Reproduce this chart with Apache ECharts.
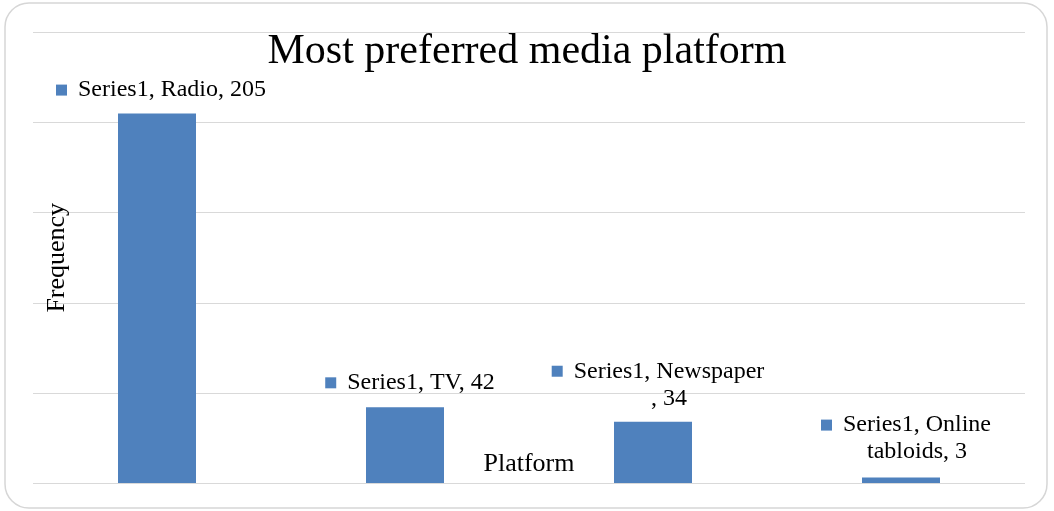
<!DOCTYPE html>
<html>
<head>
<meta charset="utf-8">
<title>Most preferred media platform</title>
<script src="https://cdn.jsdelivr.net/npm/echarts@6/dist/echarts.min.js"></script>
<style>
  html, body { margin: 0; padding: 0; background: #fff; }
  #chart { width: 1054px; height: 511px; }
</style>
</head>
<body>
<div id="chart"></div>
<script>
// Survey answers: which media platform respondents prefer
const seriesName = 'Series1';
const platforms = ['Radio', 'TV', 'Newspaper', 'Online tabloids'];
const frequency = [205, 42, 34, 3];

const barColor = '#4F81BD';
const serif = '"Liberation Serif", "Times New Roman", serif';

// Data-label text lines ("series, category, value"), wrapped where the label box is narrow
function labelLines(name, value) {
  if (name === 'Newspaper') return [seriesName + ', ' + name, ', ' + value];
  if (name === 'Online tabloids') {
    const parts = name.split(' ');
    return [seriesName + ', ' + parts[0], parts[1] + ', ' + value];
  }
  return [seriesName + ', ' + name + ', ' + value];
}

// Per-label nudges so each label sits just above its bar
const labelNudge = [[4, -5], [5, -6], [5, -5], [5, -7]];

const chart = echarts.init(document.getElementById('chart'), null, { renderer: 'canvas' });

chart.setOption({
  backgroundColor: '#fff',
  animation: false,
  title: {
    text: 'Most preferred media platform',
    left: 'center',
    top: 26,
    textStyle: { fontFamily: serif, fontSize: 42, fontWeight: 'normal', color: '#000' }
  },
  graphic: [{
    type: 'rect',
    shape: { x: 5, y: 3, width: 1042, height: 505, r: 24 },
    style: { fill: 'none', stroke: '#d6d6d6', lineWidth: 1.5 },
    z: -1, silent: true
  }],
  grid: { left: 33, right: 29, top: 32.5, bottom: 28 },
  xAxis: {
    type: 'category',
    data: platforms,
    name: 'Platform',
    nameLocation: 'middle',
    nameGap: -32,
    nameTextStyle: { fontFamily: serif, fontSize: 26, color: '#000' },
    axisLine: { show: false },
    axisTick: { show: false },
    axisLabel: { show: false }
  },
  yAxis: {
    type: 'value',
    min: 0,
    max: 250,
    interval: 50,
    name: 'Frequency',
    nameLocation: 'middle',
    nameRotate: 90,
    nameGap: -37,
    nameTextStyle: { fontFamily: serif, fontSize: 26, color: '#000' },
    axisLine: { show: false },
    axisTick: { show: false },
    axisLabel: { show: false },
    splitLine: { lineStyle: { color: '#d9d9d9', width: 1 } }
  },
  series: [{
    name: seriesName,
    type: 'bar',
    barWidth: 78,
    itemStyle: { color: barColor },
    data: frequency.map((v, i) => ({
      value: v,
      label: { offset: labelNudge[i] }
    })),
    label: {
      show: true,
      position: 'top',
      distance: 5,
      formatter: p => {
        const lines = labelLines(p.name, p.value);
        return lines.map((t, k) => (k === 0 ? '{sq| }{gap| }' : '{pad| }') + '{t|' + t + '}').join('\n');
      },
      rich: {
        sq: { width: 11, height: 11, lineHeight: 11, backgroundColor: barColor, verticalAlign: 'middle' },
        gap: { width: 11 },
        pad: { width: 22 },
        t: { fontFamily: serif, fontSize: 24, color: '#000', lineHeight: 27 }
      }
    }
  }]
});
</script>
</body>
</html>
